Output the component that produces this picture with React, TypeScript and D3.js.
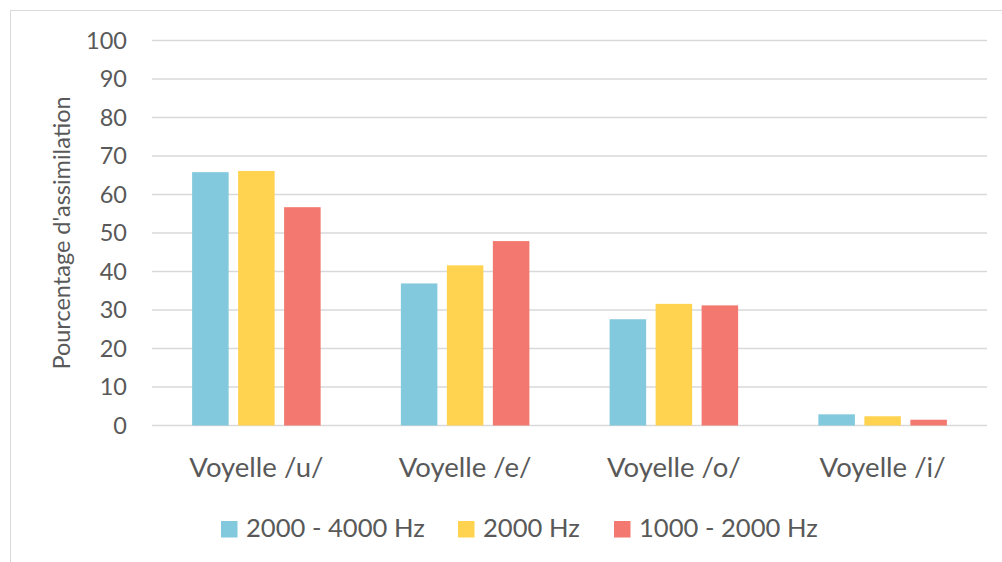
import React from "react";
import * as d3 from "d3";

const categories = ["Voyelle /u/", "Voyelle /e/", "Voyelle /o/", "Voyelle /i/"];
const seriesNames = ["2000 - 4000 Hz", "2000 Hz", "1000 - 2000 Hz"];
const seriesColors = ["#82C9DD", "#FFD34F", "#F3786F"];
const s2000to4000 = [65.8, 36.9, 27.6, 2.9];
const s2000 = [66.1, 41.6, 31.6, 2.4];
const s1000to2000 = [56.7, 47.9, 31.2, 1.5];
const yTicks = [0, 10, 20, 30, 40, 50, 60, 70, 80, 90, 100];
const yLabel = "Pourcentage d'assimilation";

const W = 1002;
const H = 562;
const FONT = "Lato, 'Open Sans', sans-serif";
const TEXT = "#595959";
const GRID = "#D9D9D9";

export default function App() {
  const series = [s2000to4000, s2000, s1000to2000];
  const plotLeft = 152;
  const plotRight = 987;
  const x0 = d3.scaleBand<string>().domain(categories).range([plotLeft, plotRight]).padding(0);
  const x1 = d3
    .scaleBand<number>()
    .domain([0, 1, 2])
    .range([0, x0.bandwidth()])
    .paddingInner(0.206)
    .paddingOuter(0.872);
  const y = d3.scaleLinear().domain([0, 100]).range([425.5, 40.5]);

  const legendItems = [
    { sq: 221, tx: 246 },
    { sq: 458, tx: 483 },
    { sq: 614, tx: 639 },
  ];

  return (
    <svg
      width={W}
      height={H}
      style={{ position: "absolute", left: 0, top: 0, background: "#fff" }}
    >
      <rect x={0} y={0} width={W} height={H} fill="#fff" />
      <rect x={10.5} y={10.5} width={W + 10} height={H + 10} fill="none" stroke={GRID} strokeWidth={1} />
      {yTicks.map((t) => (
        <g key={t}>
          <line x1={plotLeft} x2={plotRight} y1={y(t)} y2={y(t)} stroke={GRID} strokeWidth={1.5} />
          <text
            x={127}
            y={y(t)}
            dy="0.35em"
            textAnchor="end"
            fontFamily={FONT}
            fontSize={23.5}
            fill={TEXT}
          >
            {t}
          </text>
        </g>
      ))}
      {categories.map((c, ci) => (
        <g key={c}>
          {series.map((s, si) => (
            <rect
              key={si}
              x={(x0(c) as number) + (x1(si) as number)}
              y={y(s[ci])}
              width={x1.bandwidth()}
              height={y(0) - y(s[ci])}
              fill={seriesColors[si]}
            />
          ))}
          <text
            x={(x0(c) as number) + x0.bandwidth() / 2}
            y={477}
            textAnchor="middle"
            fontFamily={FONT}
            fontSize={27.5}
            fill={TEXT}
          >
            {c}
          </text>
        </g>
      ))}
      <text
        transform={`translate(70, ${(y(0) + y(100)) / 2}) rotate(-90)`}
        textAnchor="middle"
        fontFamily={FONT}
        fontSize={23.5}
        fill={TEXT}
      >
        {yLabel}
      </text>
      {seriesNames.map((n, i) => (
        <g key={n}>
          <rect x={legendItems[i].sq} y={521} width={16.5} height={16.5} fill={seriesColors[i]} />
          <text x={legendItems[i].tx} y={537.3} fontFamily={FONT} fontSize={25.6} fill={TEXT}>
            {n}
          </text>
        </g>
      ))}
    </svg>
  );
}
